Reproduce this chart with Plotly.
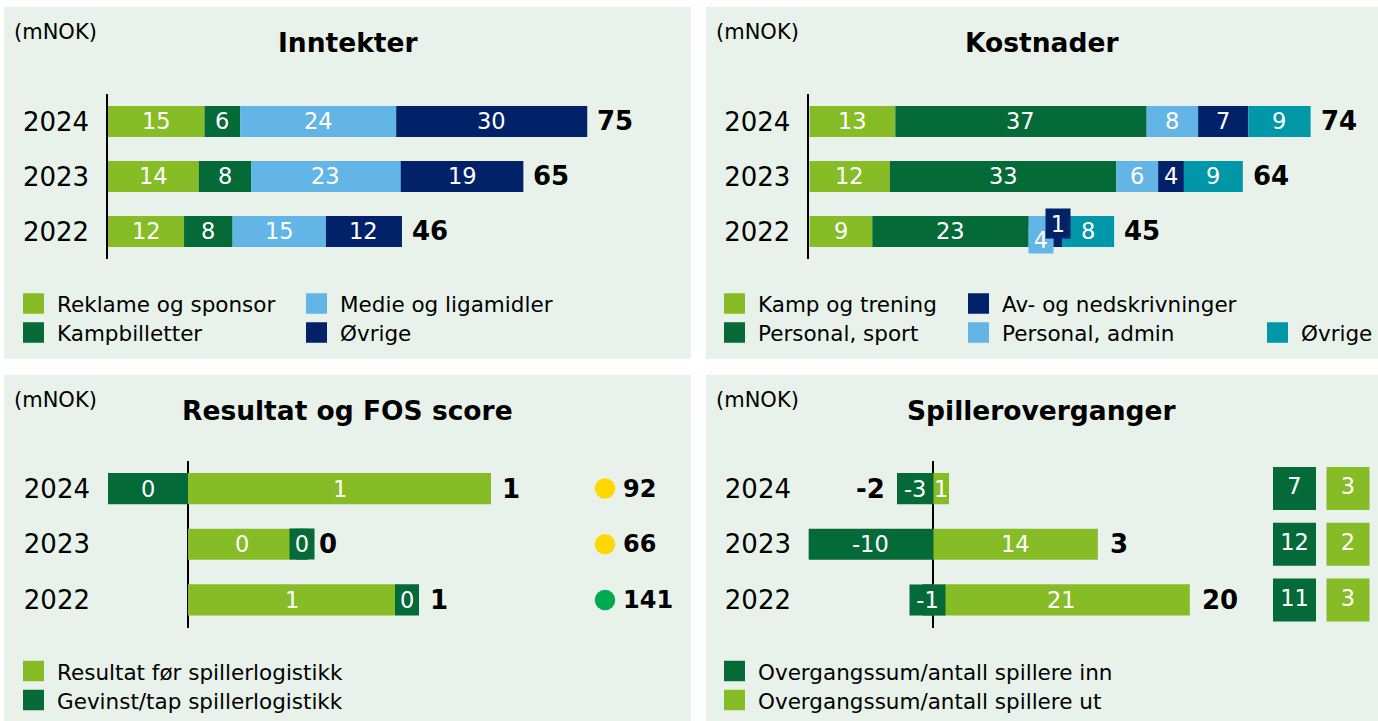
import plotly.graph_objects as go

W, H = 1378, 721

years = ["2024", "2023", "2022"]

# Inntekter (mNOK)
reklame_sponsor = [15.1, 14.2, 11.9]
kampbilletter = [5.6, 8.2, 7.6]
medie_liga = [24.4, 23.4, 14.6]
inntekter_ovrige = [29.9, 19.2, 11.9]

# Kostnader (mNOK)
kamp_trening = [12.7, 11.9, 9.3]
personal_sport = [37.1, 33.4, 23.1]
personal_admin = [7.6, 6.2, 3.6]
av_nedskrivninger = [7.4, 3.8, 1.3]
kostnader_ovrige = [9.2, 8.7, 7.7]

# Resultat (mNOK) og FOS score
resultat_for = [1.01, 0.36, 0.69]
gevinst_tap = [-0.27, 0.04, 0.08]
fos_score = [92, 66, 141]

# Spilleroverganger (mNOK) og antall spillere
overgang_inn = [-3.0, -10.3, -0.9]
overgang_ut = [1.3, 13.6, 21.2]
antall_inn = [7, 12, 11]
antall_ut = [3, 2, 3]

# colours
LGREEN = "#86BC25"
DGREEN = "#046A38"
LBLUE = "#62B5E5"
DBLUE = "#012169"
TEAL = "#0097A9"
YELLOW = "#FFD800"
FOSGREEN = "#00AB4F"
BG = "#E8F2EA"
FONT = "DejaVu Sans"
fos_colors = [YELLOW, YELLOW, FOSGREEN]

# category order on the y axes (bottom to top)
year_order = years[::-1]


def fx(p):
    return p / W


def fy(p):
    return 1 - p / H


def fmt(v):
    return str(int(round(v)))


def ypos(yr):
    # annotations on a category axis need the category index
    return year_order.index(yr)


fig = go.Figure()

# labels that sit in their own coloured box (narrow segments)
boxed = {
    ("kost", "2022", 2): dict(w=24, h=26, dy=-9),
    ("kost", "2022", 3): dict(w=24, h=29, dy=8),
    ("res", "2023", 1): dict(w=24, h=30, dy=0),
    ("overg", "2022", 0): dict(w=35, h=30, dy=0),
}


def add_stack(key, xa, ya, series, colors, names, gap):
    for vals, col, name in zip(series, colors, names):
        fig.add_trace(go.Bar(
            y=years, x=vals, orientation="h", name=name,
            marker=dict(color=col, line=dict(width=0)), width=0.56,
            xaxis=xa, yaxis=ya, hoverinfo="skip", showlegend=False))
    for i, yr in enumerate(years):
        pos, neg = 0.0, 0.0
        for k, vals in enumerate(series):
            v = vals[i]
            if v >= 0:
                start = pos
                pos += v
            else:
                start = neg
                neg += v
            ann = dict(x=start + v / 2, y=ypos(yr), xref=xa, yref=ya, text=fmt(v),
                       showarrow=False, xanchor="center", yanchor="middle",
                       font=dict(size=22.5, color="white", family=FONT))
            st = boxed.get((key, yr, k))
            if st:
                ann.update(bgcolor=colors[k], width=st["w"], height=st["h"],
                           yshift=st["dy"], borderpad=0)
            fig.add_annotation(**ann)
        total = pos + neg
        if total >= 0:
            fig.add_annotation(x=pos, y=ypos(yr), xref=xa, yref=ya,
                               text="<b>%s</b>" % fmt(total),
                               showarrow=False, xanchor="left", yanchor="middle", xshift=gap,
                               font=dict(size=26, color="black", family=FONT))
        else:
            fig.add_annotation(x=neg, y=ypos(yr), xref=xa, yref=ya,
                               text="<b>%s</b>" % fmt(total),
                               showarrow=False, xanchor="right", yanchor="middle", xshift=-gap,
                               font=dict(size=26, color="black", family=FONT))


inn_names = ["Reklame og sponsor", "Kampbilletter", "Medie og ligamidler", "Øvrige"]
inn_colors = [LGREEN, DGREEN, LBLUE, DBLUE]
add_stack("inn", "x", "y", [reklame_sponsor, kampbilletter, medie_liga, inntekter_ovrige],
          inn_colors, inn_names, 8)

kost_names = ["Kamp og trening", "Personal, sport", "Personal, admin", "Av- og nedskrivninger", "Øvrige"]
kost_colors = [LGREEN, DGREEN, LBLUE, DBLUE, TEAL]
add_stack("kost", "x2", "y2",
          [kamp_trening, personal_sport, personal_admin, av_nedskrivninger, kostnader_ovrige],
          kost_colors, kost_names, 8)

res_names = ["Resultat før spillerlogistikk", "Gevinst/tap spillerlogistikk"]
res_colors = [LGREEN, DGREEN]
add_stack("res", "x3", "y3", [resultat_for, gevinst_tap], res_colors, res_names, 9)

overg_names = ["Overgangssum/antall spillere inn", "Overgangssum/antall spillere ut"]
overg_colors = [DGREEN, LGREEN]
add_stack("overg", "x4", "y4", [overgang_inn, overgang_ut], overg_colors, overg_names, 10)

# FOS score dots
fig.add_trace(go.Scatter(
    x=["FOS"] * len(years), y=years, mode="markers",
    marker=dict(size=20.5, color=fos_colors, symbol="circle", line=dict(width=0)),
    xaxis="x5", yaxis="y3", hoverinfo="skip", showlegend=False))
for yr, s in zip(years, fos_score):
    fig.add_annotation(x=0, y=ypos(yr), xref="x5", yref="y3", text="<b>%d</b>" % s,
                       showarrow=False, xanchor="left", yanchor="middle", xshift=16,
                       font=dict(size=24, color="black", family=FONT))

# number of players in / out
for cat, counts, col in (("inn", antall_inn, DGREEN), ("ut", antall_ut, LGREEN)):
    fig.add_trace(go.Scatter(
        x=[cat] * len(years), y=years, mode="markers+text",
        marker=dict(size=43, color=col, symbol="square", line=dict(width=0)),
        text=[str(c) for c in counts], textposition="middle center",
        textfont=dict(size=22.5, color="white", family=FONT),
        xaxis="x6", yaxis="y4", hoverinfo="skip", showlegend=False))

# panel backgrounds, headings, legends
panels = [
    dict(box=(4, 7, 691, 359), title="Inntekter",
         legend=[(inn_names[0], LGREEN, 23, 0), (inn_names[1], DGREEN, 23, 1),
                 (inn_names[2], LBLUE, 306, 0), (inn_names[3], DBLUE, 306, 1)]),
    dict(box=(706, 7, 1378, 359), title="Kostnader",
         legend=[(kost_names[0], LGREEN, 724, 0), (kost_names[1], DGREEN, 724, 1),
                 (kost_names[3], DBLUE, 968, 0), (kost_names[2], LBLUE, 968, 1),
                 (kost_names[4], TEAL, 1267, 1)]),
    dict(box=(4, 375, 691, 721), title="Resultat og FOS score",
         legend=[(res_names[0], LGREEN, 23, 0), (res_names[1], DGREEN, 23, 1)]),
    dict(box=(706, 375, 1378, 721), title="Spilleroverganger",
         legend=[(overg_names[0], DGREEN, 724, 0), (overg_names[1], LGREEN, 724, 1)]),
]

shapes = []
for p in panels:
    x0, y0, x1, y1 = p["box"]
    shapes.append(dict(type="rect", xref="paper", yref="paper", x0=fx(x0), x1=fx(x1),
                       y0=fy(y1), y1=fy(y0), fillcolor=BG, line=dict(width=0), layer="below"))
    fig.add_annotation(x=fx(x0 + 8), y=fy(y0 + 25), xref="paper", yref="paper", text="(mNOK)",
                       showarrow=False, xanchor="left", yanchor="middle",
                       font=dict(size=21, color="black", family=FONT))
    fig.add_annotation(x=fx((x0 + x1) / 2 - (0 if x1 < 1000 else 1)), y=fy(y0 + 35.5),
                       xref="paper", yref="paper", text="<b>%s</b>" % p["title"],
                       showarrow=False, xanchor="center", yanchor="middle",
                       font=dict(size=26.5, color="black", family=FONT))
    row0 = y0 + (296.5 if y0 < 100 else 296)
    for name, col, left, row in p["legend"]:
        cy = row0 + row * 29
        shapes.append(dict(type="rect", xref="paper", yref="paper", x0=fx(left), x1=fx(left + 21),
                           y0=fy(cy + 10.25), y1=fy(cy - 10.25), fillcolor=col, line=dict(width=0)))
        fig.add_annotation(x=fx(left + 32), y=fy(cy + 1), xref="paper", yref="paper", text=name,
                           showarrow=False, xanchor="left", yanchor="middle",
                           font=dict(size=21.5, color="black", family=FONT))

ycommon = dict(type="category", categoryorder="array", categoryarray=year_order,
               range=[-0.5, 2.5], showgrid=False, zeroline=False, ticks="",
               tickfont=dict(size=26, color="black", family=FONT), fixedrange=True)

S_TOP_L, S_TOP_R, S_RES, S_OVG = 6.39, 6.774, 300.0, 12.1

fig.update_layout(
    width=W, height=H, margin=dict(l=0, r=0, t=0, b=0),
    paper_bgcolor="white", plot_bgcolor="rgba(0,0,0,0)",
    barmode="relative", showlegend=False, shapes=shapes,
    font=dict(family=FONT, color="black"),
    xaxis=dict(domain=[fx(108), fx(680)], range=[0, (680 - 108) / S_TOP_L], visible=False,
               anchor="y", fixedrange=True),
    yaxis=dict(domain=[fy(259), fy(94)], anchor="x", showline=True, linecolor="black",
               linewidth=1.5, ticklabelstandoff=12, **ycommon),
    xaxis2=dict(domain=[fx(809.3), fx(1370)], range=[0, (1370 - 809.3) / S_TOP_R], visible=False,
                anchor="y2", fixedrange=True),
    yaxis2=dict(domain=[fy(259), fy(94)], anchor="x2", showline=True, linecolor="black",
                linewidth=1.5, ticklabelstandoff=12, **ycommon),
    xaxis3=dict(domain=[fx(108), fx(580)], range=[(108 - 188) / S_RES, (580 - 188) / S_RES],
                showticklabels=False, showgrid=False, showline=False, ticks="",
                zeroline=True, zerolinecolor="black", zerolinewidth=1.5,
                anchor="y3", fixedrange=True),
    yaxis3=dict(domain=[fy(627.75), fy(460.75)], anchor="x3", showline=False,
                ticklabelstandoff=17, **ycommon),
    xaxis4=dict(domain=[fx(806), fx(1260)], range=[(806 - 933.3) / S_OVG, (1260 - 933.3) / S_OVG],
                showticklabels=False, showgrid=False, showline=False, ticks="",
                zeroline=True, zerolinecolor="black", zerolinewidth=1.5,
                anchor="y4", fixedrange=True),
    yaxis4=dict(domain=[fy(627.75), fy(460.75)], anchor="x4", showline=False,
                ticklabelstandoff=14, **ycommon),
    xaxis5=dict(domain=[fx(585), fx(625)], type="category", categoryarray=["FOS"],
                range=[-0.5, 0.5], visible=False, anchor="y3", fixedrange=True),
    xaxis6=dict(domain=[fx(1267.75), fx(1374.75)], type="category", categoryarray=["inn", "ut"],
                categoryorder="array", range=[-0.5, 1.5], visible=False, anchor="y4",
                fixedrange=True),
)

fig.write_html("out.html")
